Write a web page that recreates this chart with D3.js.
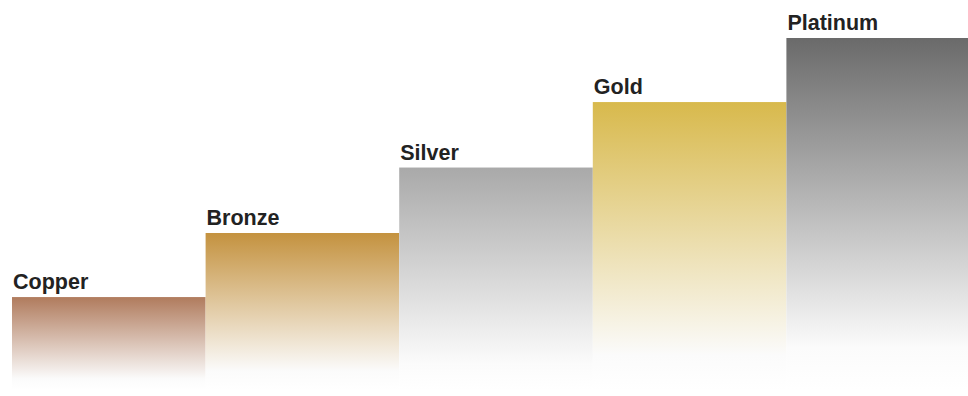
<!DOCTYPE html>
<html>
<head>
<meta charset="utf-8">
<script src="https://cdn.jsdelivr.net/npm/d3@7"></script>
<style>
  html, body { margin: 0; padding: 0; background: #fff; }
  svg { display: block; }
</style>
</head>
<body>
<svg id="chart" width="968" height="396"></svg>
<script>
const categories = ["Copper", "Bronze", "Silver", "Gold", "Platinum"];
const values = [26.4, 44.6, 63.2, 81.8, 100];
const topColors = ["#b07b5d", "#c4923f", "#a9a9a9", "#d8b94c", "#6a6a6a"];

const W = 968, H = 396;
const svg = d3.select("#chart");

const x = d3.scaleBand().domain(categories).range([12, 980]).padding(0);
const y = d3.scaleLinear().domain([0, 100]).range([390, 38]);

const defs = svg.append("defs");
categories.forEach((c, i) => {
  const g = defs.append("linearGradient")
    .attr("id", "grad" + i)
    .attr("x1", 0).attr("y1", 0).attr("x2", 0).attr("y2", 1);
  g.append("stop").attr("offset", "0%").attr("stop-color", topColors[i]);
  g.append("stop").attr("offset", "88%").attr("stop-color", "#fbfbfb");
  g.append("stop").attr("offset", "100%").attr("stop-color", "#ffffff");
});

svg.selectAll("rect.bar")
  .data(categories)
  .join("rect")
  .attr("class", "bar")
  .attr("x", d => x(d))
  .attr("y", (d, i) => y(values[i]))
  .attr("width", x.bandwidth())
  .attr("height", (d, i) => y(0) - y(values[i]))
  .attr("fill", (d, i) => `url(#grad${i})`);

svg.selectAll("text.label")
  .data(categories)
  .join("text")
  .attr("class", "label")
  .attr("x", d => x(d) + 1)
  .attr("y", (d, i) => y(values[i]) - 8)
  .attr("font-family", "Liberation Sans, Arial, sans-serif")
  .attr("font-weight", "bold")
  .attr("font-size", 21.5)
  .attr("fill", "#222")
  .text(d => d);
</script>
</body>
</html>
